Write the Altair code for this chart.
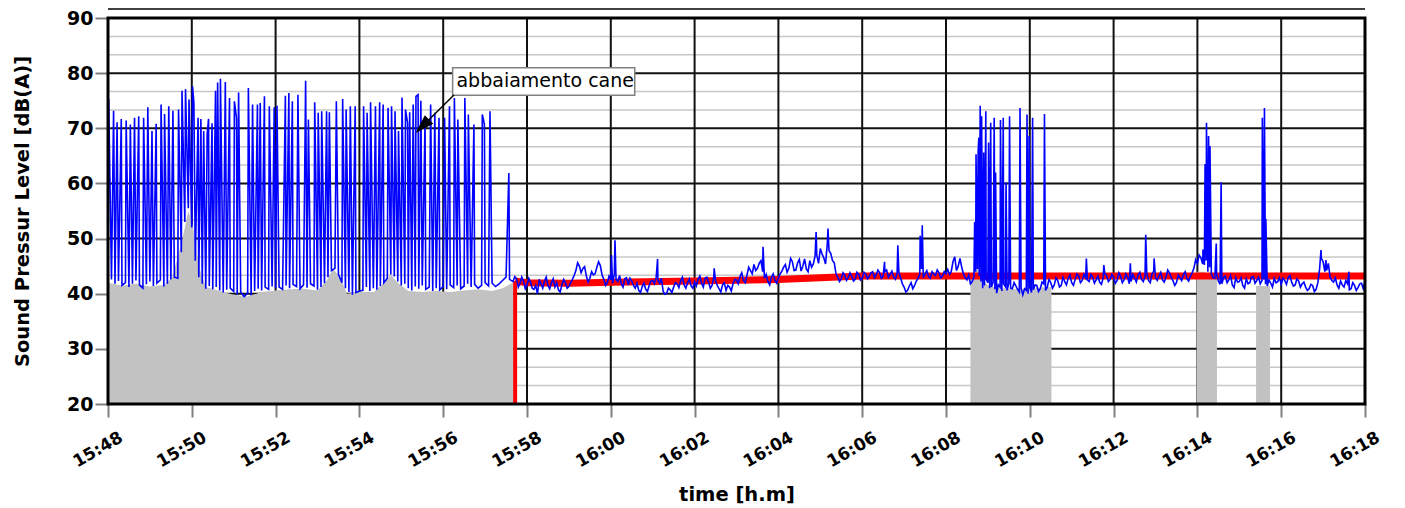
import altair as alt
import pandas as pd

# ---------------- data ----------------
TICK_LABELS = ["15:48", "15:50", "15:52", "15:54", "15:56", "15:58", "16:00", "16:02",
               "16:04", "16:06", "16:08", "16:10", "16:12", "16:14", "16:16", "16:18"]
TICK_STEP = 120          # seconds between labelled ticks
BASE_STEP = 5            # seconds between baseline readings (from 15:48:00)

base_db = [
    43.0, 42.6, 41.8, 42.3, 41.5, 42.0, 41.2, 41.8, 42.4, 41.6, 41.0, 41.7, 42.2,
    41.4, 41.9, 42.5, 41.3, 41.8, 42.6, 43.0, 42.8, 47.5, 53.0, 55.5, 52.0,
    46.0, 43.0, 41.8, 40.9, 41.4, 40.8, 41.2, 40.6, 40.2, 40.7, 41.0, 40.4,
    39.8, 40.3, 39.5, 40.1, 39.7, 40.5, 40.9, 40.6, 41.2, 40.8, 41.3, 41.0,
    41.2, 40.8, 41.5, 41.0, 41.7, 41.3, 40.9, 41.6, 41.1, 41.8, 41.4, 40.7,
    41.2, 41.9, 43.0, 44.2, 44.6, 43.5, 42.0, 41.0, 40.3, 39.8, 40.2, 40.5,
    40.6, 41.2, 40.5, 41.0, 40.7, 41.4, 42.0, 42.8, 43.5, 43.1, 42.2, 41.5,
    41.8, 41.0, 40.6, 41.3, 40.9, 41.5, 40.8, 41.2, 40.5, 41.0, 40.7, 41.3,
    40.8, 41.6, 41.1, 41.5, 40.9, 41.4, 41.8, 41.2, 41.7, 41.0, 41.5, 42.0,
    41.4, 41.9, 41.3, 41.8, 42.4, 43.0, 42.6, 42.2, 42.7, 41.9, 42.3, 41.6,
    42.1, 40.8, 40.0, 41.8, 42.3, 41.5, 42.0, 41.2, 40.7, 41.6, 42.0, 41.3,
    42.6, 44.2, 45.0, 44.6, 43.2, 42.8, 43.4, 44.8, 45.1, 42.6, 42.0, 42.5,
    43.5, 42.2, 41.8, 42.7, 41.6, 42.3, 41.0, 40.6, 41.3, 40.8, 41.5, 42.4,
    43.0, 41.9, 40.4, 40.1, 40.7, 41.2, 41.8, 42.3, 41.6, 42.0, 41.4, 42.2,
    42.6, 41.9, 42.8, 42.1, 41.5, 42.4, 40.9, 41.6, 40.6, 41.2, 41.8, 42.5,
    43.1, 42.4, 43.4, 44.2, 45.3, 44.6, 46.0, 42.8, 42.2, 43.0, 42.4, 42.9,
    44.1, 45.3, 44.6, 45.8, 44.3, 46.2, 45.0, 44.5, 46.0, 45.4, 47.0, 48.2,
    46.5, 49.0, 47.3, 45.6, 43.0, 42.7, 43.4, 42.9, 43.2, 42.6, 43.5, 42.8,
    43.6, 43.1, 44.0, 43.4, 43.8, 43.2, 44.3, 43.5, 43.0, 43.7, 42.9, 41.2,
    40.6, 42.0, 41.5, 42.8, 44.5, 43.6, 43.1, 44.0, 43.3, 43.8, 43.2, 43.6,
    43.5, 45.8, 44.2, 46.4, 43.6, 42.5, 41.8, 43.0, 44.5, 42.2, 41.5, 42.0,
    41.2, 40.8, 41.6, 40.5, 41.3, 41.9, 40.9, 41.4, 40.3, 39.8, 40.6, 41.2,
    40.7, 41.5, 40.9, 41.8, 41.2, 42.0, 41.6, 42.4, 41.5, 42.2, 42.8, 42.0,
    42.6, 43.2, 42.4, 42.9, 42.2, 43.0, 42.5, 42.1, 42.8, 43.3, 42.6, 43.0,
    42.4, 43.2, 42.5, 43.0, 42.2, 42.8, 43.4, 42.6, 43.1, 42.4, 43.6, 42.9,
    43.3, 42.5, 43.0, 43.8, 42.4, 42.0, 42.9, 43.5, 42.7, 43.2, 44.6, 45.5,
    46.5, 45.2, 44.0, 43.6, 42.8, 42.3, 41.8, 43.2, 42.5, 41.6, 42.9, 42.2,
    41.5, 42.7, 42.0, 43.1, 42.4, 41.8, 42.6, 41.4, 41.9, 42.8, 42.2, 41.7,
    42.4, 42.9, 42.1, 41.6, 42.3, 41.8, 41.2, 40.9, 41.5, 40.8, 44.5, 45.8,
    44.2, 43.0, 42.1, 41.6, 42.3, 41.2, 41.8, 40.9, 41.5, 41.1, 41.9, 42.3,
]

# in-between readings (2.5 s after each baseline reading) from 15:57:42.5 onwards
MID_START = 582.5
mid_db = [
    43.1, 41.2, 43.0, 40.9,
    42.8, 41.0, 41.5, 42.6, 41.0, 43.0, 40.9, 42.7, 42.0, 40.3, 42.6, 41.0,
    42.0, 43.3, 45.6, 43.8, 44.9, 42.1, 44.0, 43.6, 45.8, 43.4, 41.5, 43.2,
    41.9, 42.6, 43.3, 41.2, 42.9, 42.8, 41.5, 41.9, 40.2, 41.9, 40.4, 42.3,
    41.8, 42.5, 42.8, 39.9, 41.0, 40.2, 42.0, 41.1, 43.0, 41.0, 42.7, 41.0,
    41.4, 43.2, 41.2, 43.0, 41.0, 42.9, 41.5, 40.3, 42.0, 41.5, 40.5, 42.6,
    41.8, 43.8, 42.0, 44.8, 43.6, 44.2, 45.5, 44.0, 43.5, 41.6, 43.6, 41.9,
    43.6, 44.8, 43.9, 46.4, 44.2, 45.6, 44.1, 46.3, 44.0, 44.8, 46.8, 45.5,
    47.2, 45.4, 47.8, 46.0, 43.6, 42.2, 43.8, 42.4, 43.8, 42.3, 43.9, 42.5,
    43.9, 42.7, 43.8, 42.9, 44.3, 42.8, 44.0, 43.0, 44.1, 42.6, 43.9, 41.8,
    40.3, 41.4, 40.9, 42.3, 43.5, 42.9, 44.2, 42.8, 43.6, 44.3, 42.9, 44.0,
    44.4, 44.0, 46.7, 45.0, 44.8, 42.9, 43.4, 42.2, 44.0, 43.2, 41.0, 42.6,
    41.0, 42.1, 40.1, 41.2, 41.8, 40.6, 41.0, 42.0, 40.8, 41.0, 40.9, 40.0,
    40.2, 41.6, 40.4, 42.1, 40.6, 42.6, 41.0, 42.9, 41.2, 43.0, 41.6, 43.4,
    41.5, 43.6, 42.0, 43.5, 42.5, 43.5, 41.9, 43.2, 41.7, 43.6, 42.2, 43.5,
    41.9, 43.8, 42.0, 43.6, 41.8, 43.5, 42.1, 43.9, 42.2, 43.8, 42.0, 44.1,
    42.4, 43.9, 42.1, 44.3, 42.9, 41.5, 43.4, 42.4, 44.0, 42.3, 43.8, 46.2,
    47.0, 45.4, 46.0, 44.8, 42.9, 43.6, 41.7, 42.9, 42.0, 43.3, 41.1, 42.1,
    42.9, 41.0, 41.8, 43.0, 41.9, 43.0, 42.4, 41.7, 42.5, 41.2, 42.0, 42.9,
    42.8, 41.7, 43.3, 41.4, 42.7, 41.2, 42.1, 40.6, 41.7, 40.4, 42.0, 46.4,
    44.0, 45.5, 42.4, 42.9, 41.0, 41.6, 42.4, 40.7, 42.0, 40.6, 41.8, 40.9,
]

# individual peaks (seconds after 15:48:00, dB(A))
spike_t = [
    1, 8, 13, 19, 26, 32, 38, 44, 51, 57, 63, 69, 76, 81, 87, 93, 101, 106, 111, 116,
    121, 123, 129, 133, 137, 142, 144, 149, 154, 157, 161, 168, 174, 181, 184, 187,
    201, 207, 214, 218, 224, 231, 238, 242, 254, 259, 264, 272, 283, 287, 296, 301,
    306, 313, 317, 327, 336, 341, 347, 354, 366, 371, 376, 383, 389, 394, 401, 406,
    411, 416, 421, 426, 429, 432, 437, 441, 444, 448, 454, 462, 468, 474, 482, 489,
    496, 501, 511, 516, 524, 536, 539, 547, 574,
    721, 726, 787, 868, 938, 1014, 1031, 1112, 1131, 1163, 1166,
    1241, 1243, 1246, 1247, 1249, 1251, 1254, 1257, 1261, 1264, 1269, 1271, 1278,
    1282, 1286, 1291, 1306, 1316, 1319, 1324, 1341,
    1401, 1426, 1464, 1486, 1498,
    1568, 1571, 1573, 1576, 1578, 1587, 1594, 1653, 1656, 1658,
    1737, 1744, 1777,
]
spike_db = [
    75.3, 73.2, 71.1, 71.7, 71.4, 70.7, 71.9, 72.2, 71.9, 73.8, 69.5, 70.8, 74.3, 72.6,
    74.0, 73.2, 73.4, 76.8, 77.1, 75.2, 77.6, 74.6, 71.9, 71.7, 69.5, 68.9, 71.7, 70.9,
    76.8, 78.3, 79.0, 78.4, 75.5, 74.9, 71.9, 76.5, 77.3, 74.3, 74.3, 74.6, 75.8, 74.0,
    73.8, 74.1, 75.9, 76.4, 74.9, 76.1, 78.6, 71.6, 74.7, 72.8, 73.1, 73.1, 72.9, 74.9,
    75.3, 73.4, 74.0, 74.0, 74.0, 72.8, 74.7, 74.0, 74.7, 74.3, 73.7, 74.0, 73.1, 69.5,
    75.6, 73.4, 71.0, 72.9, 74.3, 75.8, 76.1, 75.0, 71.3, 74.3, 72.8, 71.9, 71.9, 74.0,
    75.5, 71.6, 75.5, 72.5, 70.7, 72.5, 70.7, 73.1, 61.9,
    47.0, 49.7, 46.3, 44.6, 48.5, 51.2, 51.8, 45.8, 48.8, 50.5, 52.4,
    53.0, 65.3, 65.6, 68.3, 74.1, 72.2, 65.6, 73.1, 67.4, 71.0, 71.9, 62.0, 71.5,
    71.9, 60.2, 72.2, 73.7, 72.5, 68.6, 71.9, 72.6,
    46.4, 45.2, 45.5, 50.7, 46.4,
    48.0, 63.5, 71.0, 68.6, 66.8, 49.1, 60.2, 71.9, 73.7, 53.6,
    47.9, 46.1, 44.0,
]

gray_a_t = [0, 20, 40, 60, 80, 92, 105, 115, 122, 130, 140, 160, 180, 200, 220, 240,
            260, 280, 300, 314, 322, 333, 342, 360, 380, 395, 405, 415, 430, 450, 470,
            490, 510, 530, 550, 565, 580]
gray_a_db = [42.0, 41.5, 41.8, 41.3, 41.6, 43.0, 49.0, 55.0, 52.0, 45.0, 41.2, 40.5,
             39.8, 39.5, 40.3, 40.6, 40.8, 40.9, 40.6, 42.5, 44.5, 43.0, 40.0, 40.3,
             40.2, 42.0, 43.4, 42.0, 40.5, 40.3, 40.5, 40.3, 40.6, 40.8, 40.5, 41.0, 42.0]
gray_b_t = [1235, 1243, 1250, 1260, 1280, 1300, 1320, 1351]
gray_b_db = [42.5, 45.2, 43.0, 41.5, 41.0, 40.8, 41.0, 41.2]
gray_c_t = [1559, 1570, 1580, 1588]
gray_c_db = [44.0, 44.0, 43.0, 42.8]
gray_d_t = [1644, 1664]
gray_d_db = [41.4, 41.4]

red_t = [583, 600, 660, 720, 840, 960, 1020, 1080, 1800]
red_db = [42.3, 42.0, 41.9, 42.1, 42.3, 42.6, 42.9, 43.2, 43.2]

ANNOT_TEXT = "abbaiamento cane"
annot_box_t = [493.5, 754.3]
annot_box_db = [76.0, 81.0]
annot_text_pos = (499.0, 78.5)
arrow_from = (495.4, 76.05)
arrow_head = (450.1, 70.38)

# ---------------- tables ----------------
base_df = pd.DataFrame({"t": [i * BASE_STEP for i in range(len(base_db))],
                        "db": base_db, "o": 0})
mid_df = pd.DataFrame({"t": [MID_START + i * BASE_STEP for i in range(len(mid_db))],
                       "db": mid_db, "o": 0})
spike_df = pd.DataFrame({"t": spike_t, "db": spike_db, "o": 1})
blue_df = pd.concat([base_df, mid_df, spike_df]).sort_values(["t", "o"]).reset_index(drop=True)
blue_df["i"] = range(len(blue_df))

W, H = 1257, 386
FONT = "DejaVu Sans"
Y_MIN, Y_MAX = 20, 90
T_MAX = TICK_STEP * (len(TICK_LABELS) - 1)

x_scale = alt.Scale(domain=[0, T_MAX], nice=False, zero=False)
y_scale = alt.Scale(domain=[Y_MIN, Y_MAX], nice=False, zero=False)

label_array = "[" + ",".join(f"'{s}'" for s in TICK_LABELS) + "]"

X_AXIS = alt.Axis(
    values=[i * TICK_STEP for i in range(len(TICK_LABELS))],
    labelExpr=f"{label_array}[round(datum.value / {TICK_STEP})]",
    labelAngle=-30, labelAlign="right", labelBaseline="top",
    labelPadding=12, labelOffset=9, labelFont=FONT, labelFontSize=17,
    labelFontWeight="bold", labelColor="black",
    tickSize=13, tickWidth=2, tickColor="#808080", domain=False, grid=False,
    title="time [h.m]", titleFont=FONT, titleFontSize=19.5, titleFontWeight="bold",
    titleColor="black", titleY=90, titleBaseline="middle")
Y_AXIS = alt.Axis(
    values=list(range(Y_MIN, Y_MAX + 1, 10)),
    labelFont=FONT, labelFontSize=19, labelFontWeight="bold", labelColor="black",
    labelPadding=2, tickSize=13, tickWidth=2, tickColor="#808080",
    domain=False, grid=False,
    title="Sound Pressur Level [dB(A)]", titleFont=FONT, titleFontSize=19.5,
    titleFontWeight="bold", titleColor="black", titleAngle=270,
    titleX=-86, titleY=H / 2, titleAlign="center", titleBaseline="middle")


def xq(field="t"):
    return alt.X(f"{field}:Q", scale=x_scale, axis=X_AXIS)


def yq(field="db"):
    return alt.Y(f"{field}:Q", scale=y_scale, axis=Y_AXIS)


minor_vals = [Y_MIN + k * 10 / 3 for k in range(1, 21) if k % 3 != 0]
major_vals = list(range(30, 90, 10))
vert_vals = list(range(TICK_STEP, T_MAX, TICK_STEP))

minor = alt.Chart(pd.DataFrame({"db": minor_vals})).mark_rule(
    color="#c8c8c8", strokeWidth=1.5).encode(y=yq())
major = alt.Chart(pd.DataFrame({"db": major_vals})).mark_rule(
    color="#111111", strokeWidth=2).encode(y=yq())
vert = alt.Chart(pd.DataFrame({"t": vert_vals})).mark_rule(
    color="#111111", strokeWidth=2).encode(x=xq())


def gray_layer(ts, dbs):
    df = pd.DataFrame({"t": ts, "db": dbs, "floor": [Y_MIN] * len(ts)})
    return alt.Chart(df).mark_area(color="#c2c2c2").encode(
        x=xq(), y=yq(), y2=alt.Y2("floor:Q"))


grays = [gray_layer(gray_a_t, gray_a_db), gray_layer(gray_b_t, gray_b_db),
         gray_layer(gray_c_t, gray_c_db), gray_layer(gray_d_t, gray_d_db)]

red_line = alt.Chart(pd.DataFrame({"t": red_t, "db": red_db})).mark_line(
    color="#ff0000", strokeWidth=7, strokeCap="butt").encode(x=xq(), y=yq())
red_vert = alt.Chart(pd.DataFrame({"t": [red_t[0]], "db": [red_db[0]], "floor": [Y_MIN]})).mark_rule(
    color="#ff0000", strokeWidth=4).encode(x=xq(), y=yq(), y2=alt.Y2("floor:Q"))

blue = alt.Chart(blue_df).mark_line(color="#0000ff", strokeWidth=1.6).encode(
    x=xq(), y=yq(), order="i:Q")

box = alt.Chart(pd.DataFrame({"t": [annot_box_t[0]], "t2": [annot_box_t[1]],
                              "db": [annot_box_db[0]], "db2": [annot_box_db[1]]})).mark_rect(
    fill="white", stroke="#808080", strokeWidth=1.5).encode(
    x=xq(), x2="t2:Q", y=yq(), y2="db2:Q")
text = alt.Chart(pd.DataFrame({"t": [annot_text_pos[0]], "db": [annot_text_pos[1]],
                               "txt": [ANNOT_TEXT]})).mark_text(
    align="left", baseline="middle", font=FONT, fontSize=19, color="black").encode(
    x=xq(), y=yq(), text="txt:N")
arrow = alt.Chart(pd.DataFrame({"t": [arrow_from[0], arrow_head[0]],
                                "db": [arrow_from[1], arrow_head[1]]})).mark_line(
    color="black", strokeWidth=1.5).encode(x=xq(), y=yq())
head = alt.Chart(pd.DataFrame({"t": [arrow_head[0]], "db": [arrow_head[1]]})).mark_point(
    shape="M0,-1L0.63,1L-0.63,1Z", size=361, filled=True, color="black", opacity=1,
    angle=225).encode(x=xq(), y=yq())

border = alt.Chart(pd.DataFrame({"a": [0]})).mark_rect(
    fillOpacity=0, stroke="black", strokeWidth=3).encode(
    x=alt.value(0), x2=alt.value(W), y=alt.value(0), y2=alt.value(H))
top_line = alt.Chart(pd.DataFrame({"a": [0]})).mark_rule(
    color="black", strokeWidth=1.5).encode(x=alt.value(0), x2=alt.value(W), y=alt.value(-9))

chart = alt.layer(
    minor, major, vert, *grays, red_line, red_vert, blue,
    box, text, arrow, head, border, top_line
).properties(
    width=W, height=H,
    autosize=alt.AutoSizeParams(type="none"),
    padding={"left": 100, "top": 10, "right": 32, "bottom": 104},
    background="white",
).configure_view(strokeWidth=0)

chart.save("out.html", embed_options={"renderer": "svg", "actions": False})
